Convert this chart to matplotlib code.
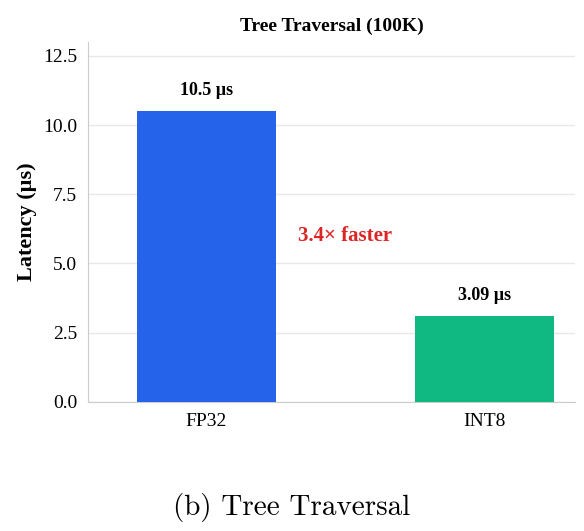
import matplotlib.pyplot as plt

# ── Data ──────────────────────────────────────────────────────────────────────
categories = ["FP32", "INT8"]
latency_us = [10.5, 3.09]
bar_labels = ["10.5 µs", "3.09 µs"]
speedup_label = "3.4× faster"
colors = ["#2563eb", "#10b981"]

plt.rcParams["font.family"] = ["Liberation Serif", "DejaVu Serif"]

fig = plt.figure(figsize=(5.84, 5.31), dpi=100)
ax = fig.add_axes([0.151, 0.243, 0.834, 0.678])

x = range(len(categories))
ax.bar(x, latency_us, width=0.5, color=colors, zorder=3)
for xi, v, lab in zip(x, latency_us, bar_labels):
    ax.text(xi, v + 0.45, lab, ha="center", va="bottom",
            fontsize=13, fontweight="bold")

ax.text(0.5, 6.0, speedup_label, ha="center", va="center",
        fontsize=15, fontweight="bold", color="#dc2626")

ax.set_xticks(list(x))
ax.set_xticklabels(categories, fontsize=14)
ax.set_xlim(-0.424, 1.327)
ax.set_ylim(0, 13)
ax.set_yticks([0, 2.5, 5, 7.5, 10, 12.5])
ax.set_yticklabels(["0.0", "2.5", "5.0", "7.5", "10.0", "12.5"], fontsize=14)
ax.set_ylabel("Latency (µs)", fontsize=16, fontweight="bold")
ax.set_title("Tree Traversal (100K)", fontsize=14, fontweight="bold", pad=8)
ax.grid(axis="y", color="#e8e8e8", lw=1, zorder=0)
ax.tick_params(length=0, pad=8)
for s in ["top", "right"]:
    ax.spines[s].set_visible(False)
for s in ["left", "bottom"]:
    ax.spines[s].set_color("#cccccc")

fig.text(0.5, 0.045, "(b) Tree Traversal", ha="center", va="center",
         fontsize=21, family=["cmr10", "DejaVu Serif"])

fig.savefig("out.png", dpi=100)
